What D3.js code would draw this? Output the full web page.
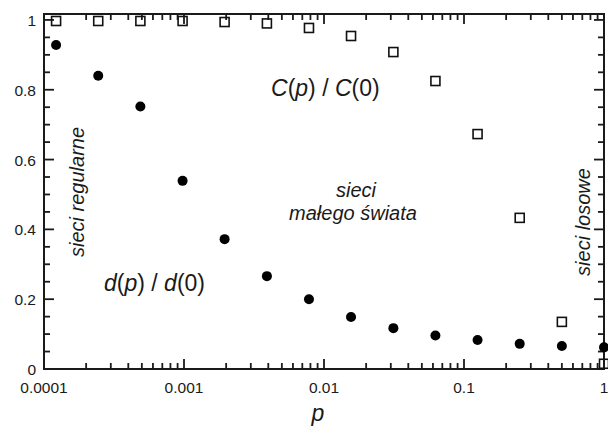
<!DOCTYPE html>
<html>
<head>
<meta charset="utf-8">
<script src="https://cdn.jsdelivr.net/npm/d3@7"></script>
<style>
  body { margin: 0; background: #fff; }
  text { font-family: "Liberation Sans", Arial, sans-serif; fill: #1a1a1a; }
</style>
</head>
<body>
<div id="chart"></div>
<script>
// chart size and plot box
const width = 608;
const height = 432;
const margin = { top: 14, right: 4, bottom: 63, left: 44 };

// rewiring probability p (doubling steps)
const pValues = [0.000122, 0.000244, 0.000488, 0.000977, 0.00195, 0.00391, 0.00781,
                 0.0156, 0.0313, 0.0625, 0.125, 0.25, 0.5, 1];
// normalised path length d(p)/d(0)
const dRatio = [0.928, 0.840, 0.752, 0.539, 0.372, 0.266, 0.200,
                0.149, 0.117, 0.096, 0.083, 0.072, 0.066, 0.062];
// normalised clustering C(p)/C(0)
const cRatio = [0.997, 0.997, 0.997, 0.997, 0.994, 0.990, 0.977,
                0.954, 0.908, 0.825, 0.673, 0.433, 0.135, 0.015];

const xTickValues = [0.0001, 0.001, 0.01, 0.1, 1];
const xTickLabels = ["0.0001", "0.001", "0.01", "0.1", "1"];
const yTickValues = [0, 0.2, 0.4, 0.6, 0.8, 1];
const yTickLabels = ["0", "0.2", "0.4", "0.6", "0.8", "1"];

const svg = d3.select("#chart")
    .append("svg")
    .attr("width", width)
    .attr("height", height);

const xScale = d3.scaleLog()
    .domain([0.0001, 1])
    .range([margin.left, width - margin.right]);

const yScale = d3.scaleLinear()
    .domain([0, 1.017])
    .range([height - margin.bottom, margin.top]);

const x0 = xScale.range()[0], x1 = xScale.range()[1];
const yB = yScale(0), yT = margin.top;

// minor ticks: 2..9 in each decade, every 0.05 on y
const xMinor = [];
[0.0001, 0.001, 0.01, 0.1].forEach(dec => {
    for (let k = 2; k <= 9; k++) xMinor.push(dec * k);
});
const yMinor = d3.range(0, 21).map(i => i * 0.05).filter(v => Math.round(v * 100) % 20 !== 0);

const axisColor = "#1a1a1a";
const ticks = svg.append("g");

function tickLines(cls, data, attrs) {
    ticks.selectAll("line." + cls).data(data).join("line")
        .attr("class", cls)
        .attr("stroke", axisColor)
        .attr("stroke-width", 1.8)
        .attr("x1", attrs.x1).attr("x2", attrs.x2)
        .attr("y1", attrs.y1).attr("y2", attrs.y2);
}

// x ticks, inward on bottom and top
const xTicks = xTickValues.map(v => ({ v, len: 10 })).concat(xMinor.map(v => ({ v, len: 6 })));
tickLines("xb", xTicks, { x1: d => xScale(d.v), x2: d => xScale(d.v), y1: yB, y2: d => yB - d.len });
tickLines("xt", xTicks, { x1: d => xScale(d.v), x2: d => xScale(d.v), y1: yT, y2: d => yT + d.len });

// y ticks, inward on left and right
const yTicks = yTickValues.map(v => ({ v, len: 10 })).concat(yMinor.map(v => ({ v, len: 6 })));
tickLines("yl", yTicks, { y1: d => yScale(d.v), y2: d => yScale(d.v), x1: x0, x2: d => x0 + d.len });
tickLines("yr", yTicks, { y1: d => yScale(d.v), y2: d => yScale(d.v), x1: x1, x2: d => x1 - d.len });

// tick labels
svg.append("g").selectAll("text")
    .data(xTickValues)
    .join("text")
    .attr("x", d => xScale(d))
    .attr("y", yB + 24)
    .attr("text-anchor", "middle")
    .attr("font-family", "DejaVu Sans")
    .attr("font-size", 15.5)
    .text((d, i) => xTickLabels[i]);

svg.append("g").selectAll("text")
    .data(yTickValues)
    .join("text")
    .attr("x", x0 - 8)
    .attr("y", d => yScale(d) + 6)
    .attr("text-anchor", "end")
    .attr("font-family", "DejaVu Sans")
    .attr("font-size", 15.5)
    .text((d, i) => yTickLabels[i]);

// plot frame
svg.append("rect")
    .attr("x", x0)
    .attr("y", yT)
    .attr("width", x1 - x0)
    .attr("height", yB - yT)
    .attr("fill", "none")
    .attr("stroke", axisColor)
    .attr("stroke-width", 2);

// C(p)/C(0) open squares
const sq = 9;
svg.append("g")
    .selectAll("rect")
    .data(pValues.map((p, i) => ({ p, v: cRatio[i] })))
    .join("rect")
    .attr("x", d => xScale(d.p) - sq / 2)
    .attr("y", d => yScale(d.v) - sq / 2)
    .attr("width", sq)
    .attr("height", sq)
    .attr("fill", "none")
    .attr("stroke", "#111")
    .attr("stroke-width", 1.6);

// d(p)/d(0) filled dots
svg.append("g")
    .selectAll("circle")
    .data(pValues.map((p, i) => ({ p, v: dRatio[i] })))
    .join("circle")
    .attr("cx", d => xScale(d.p))
    .attr("cy", d => yScale(d.v))
    .attr("r", 5)
    .attr("fill", "#000");

// annotations
function ratioLabel(x, y, f) {
    const t = svg.append("text").attr("x", x).attr("y", y).attr("font-size", 23);
    t.append("tspan").attr("font-style", "italic").text(f);
    t.append("tspan").text("(");
    t.append("tspan").attr("font-style", "italic").text("p");
    t.append("tspan").text(") / ");
    t.append("tspan").attr("font-style", "italic").text(f);
    t.append("tspan").text("(0)");
}
ratioLabel(271, 96, "C");
ratioLabel(104, 291, "d");

svg.append("text")
    .attr("x", 356).attr("y", 197)
    .attr("text-anchor", "middle")
    .attr("font-size", 20).attr("font-style", "italic")
    .text("sieci");
svg.append("text")
    .attr("x", 353).attr("y", 220)
    .attr("text-anchor", "middle")
    .attr("font-size", 20).attr("font-style", "italic")
    .text("małego świata");

svg.append("text")
    .attr("transform", "translate(84,192) rotate(-90)")
    .attr("text-anchor", "middle")
    .attr("font-size", 20).attr("font-style", "italic")
    .text("sieci regularne");
svg.append("text")
    .attr("transform", "translate(590,222) rotate(-90)")
    .attr("text-anchor", "middle")
    .attr("font-size", 20).attr("font-style", "italic")
    .text("sieci losowe");

// x axis title
svg.append("text")
    .attr("x", 318).attr("y", 421)
    .attr("text-anchor", "middle")
    .attr("font-size", 23).attr("font-style", "italic")
    .text("p");
</script>
</body>
</html>
